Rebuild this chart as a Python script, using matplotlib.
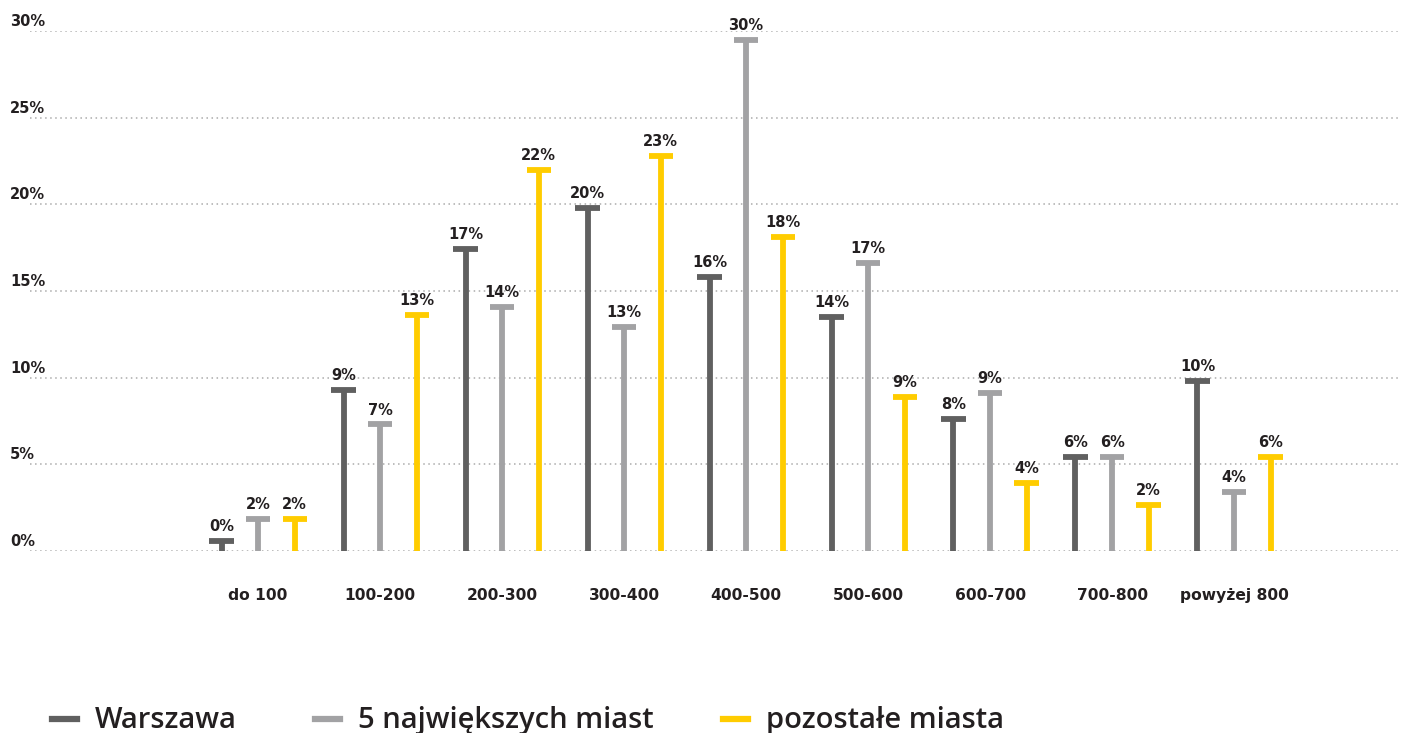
import matplotlib.pyplot as plt
from matplotlib.lines import Line2D

plt.rcParams['font.family'] = ['DejaVu Sans']

# price ranges and share of offers per group
categories = ['do 100', '100-200', '200-300', '300-400', '400-500',
              '500-600', '600-700', '700-800', 'powyżej 800']
warszawa = [0.6, 9.3, 17.4, 19.8, 15.8, 13.5, 7.6, 5.4, 9.8]
miasta5 = [1.85, 7.3, 14.1, 12.9, 29.5, 16.6, 9.1, 5.4, 3.4]
pozostale = [1.85, 13.6, 22.0, 22.8, 18.1, 8.9, 3.9, 2.65, 5.4]

# labels as printed on the chart
lab_warszawa = ['0%', '9%', '17%', '20%', '16%', '14%', '8%', '6%', '10%']
lab_miasta5 = ['2%', '7%', '14%', '13%', '30%', '17%', '9%', '6%', '4%']
lab_pozostale = ['2%', '13%', '22%', '23%', '18%', '9%', '4%', '2%', '6%']

series_names = ['Warszawa', '5 największych miast', 'pozostałe miasta']
colors = ['#606060', '#a2a2a4', '#ffcc00']
yticks = [0, 5, 10, 15, 20, 25, 30]

text_color = '#231f20'

fig = plt.figure(figsize=(14.02, 7.33), dpi=100)
ax = fig.add_axes([30 / 1402, (733 - 551) / 733, 1370 / 1402, 520 / 733])
ax.set_xlim(-1.87, 9.36)
ax.set_ylim(0, 30)
ax.axis('off')

# dotted grid lines + tick labels above them
for t in yticks:
    ax.axhline(t, color='#ababab', lw=1.1, ls=(0, (1, 2.3)), zorder=0)
    ax.annotate(f'{t}%', (-1.87, t), xytext=(-14.5, 1.5), textcoords='offset points',
                ha='left', va='bottom', fontsize=10.5, fontweight='bold',
                color=text_color, annotation_clip=False)

offsets = [-0.3, 0.0, 0.3]
cap = 0.1
all_vals = [warszawa, miasta5, pozostale]
all_labs = [lab_warszawa, lab_miasta5, lab_pozostale]

for vals, labs, off, c in zip(all_vals, all_labs, offsets, colors):
    xs = [i + off for i in range(len(categories))]
    ax.vlines(xs, 0, vals, colors=c, lw=4.2, zorder=3, clip_on=False)
    ax.hlines(vals, [x - cap for x in xs], [x + cap for x in xs], colors=c,
              lw=4.2, zorder=3, clip_on=False)
    for x, v, l in zip(xs, vals, labs):
        ax.annotate(l, (x, v), xytext=(0, 5), textcoords='offset points',
                    ha='center', va='bottom', fontsize=10.5, fontweight='bold',
                    color=text_color, annotation_clip=False)

for i, name in enumerate(categories):
    ax.annotate(name, (i, 0), xytext=(0, -32), textcoords='offset points',
                ha='center', va='center', fontsize=11.2, fontweight='bold',
                color=text_color, annotation_clip=False)

# legend drawn by hand along the bottom
leg_x = [52, 315, 723]
for x0, name, c in zip(leg_x, series_names, colors):
    y = (733 - 719) / 733
    fig.add_artist(Line2D([x0 / 1402, (x0 + 25) / 1402], [y, y], color=c, lw=4.5))
    fig.text((x0 + 43) / 1402, (733 - 735) / 733, name, ha='left', va='bottom',
             fontsize=21, fontweight='semibold', family='Open Sans',
             color=text_color)

fig.savefig('out.png', dpi=100)
